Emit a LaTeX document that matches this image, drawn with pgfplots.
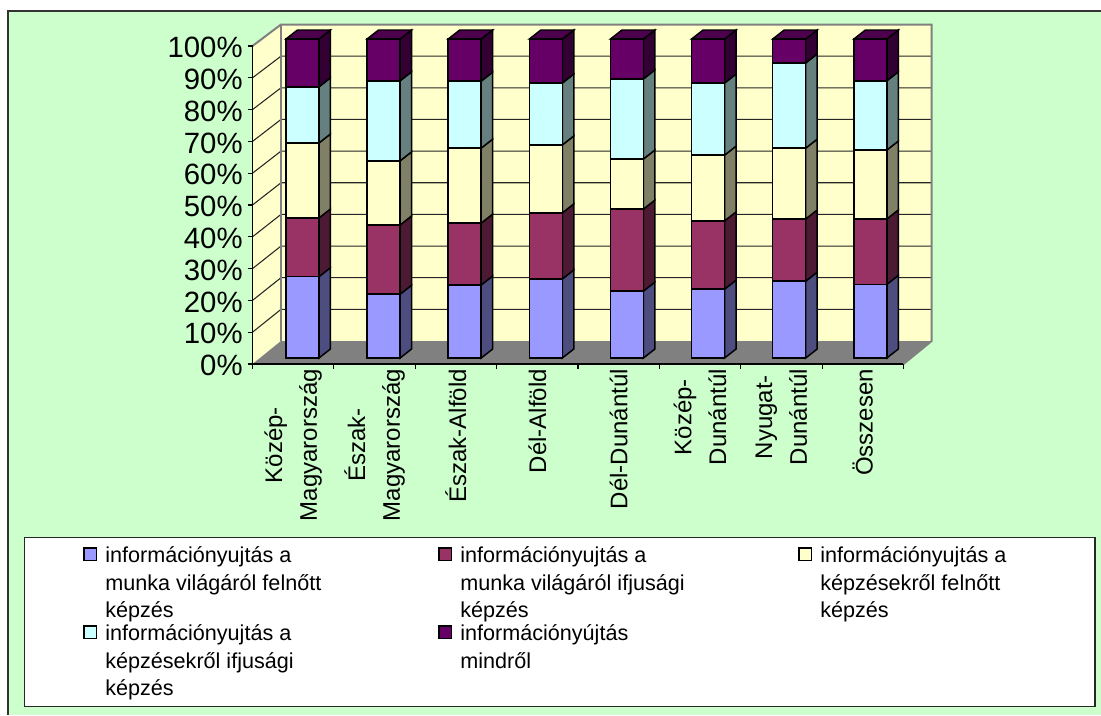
\documentclass[border=0pt]{standalone}
\usepackage{fontspec}
\setmainfont{Liberation Sans}
\usepackage{pgfplots}
\usepackage{pgfplotstable}
\pgfplotsset{compat=1.18}
\definecolor{bgg}{HTML}{CCFFCC}
\definecolor{wall}{HTML}{FFFFCC}
\definecolor{floorc}{HTML}{808080}
\definecolor{ca}{HTML}{9999FF}
\definecolor{cb}{HTML}{993366}
\definecolor{cc}{HTML}{FFFFCC}
\definecolor{cd}{HTML}{CCFFFF}
\definecolor{ce}{HTML}{660066}
\definecolor{sa}{HTML}{4D4D80}
\definecolor{sb}{HTML}{4D1A33}
\definecolor{sc}{HTML}{808066}
\definecolor{sd}{HTML}{668080}
\definecolor{se}{HTML}{330033}
\definecolor{te}{HTML}{4D004D}
\pgfplotstableread{
x a b c d e
0 25.5 18.4 23.5 17.6 15.0
1 20.0 21.7 20.1 25.1 13.1
2 22.9 19.4 23.5 21.0 13.2
3 24.8 20.7 21.3 19.4 13.8
4 21.0 25.7 15.7 25.1 12.5
5 21.6 21.4 20.6 22.6 13.8
6 24.1 19.5 22.2 26.7 7.5
7 23.1 20.5 21.6 21.7 13.1
}\shares
% side face of one segment: x, lower value, upper value, colour
\newcommand\seg[4]{\addplot[fill=#4,draw=black,line width=1.1pt,line join=miter] coordinates {(#1+0.2033,#2) (#1+0.3450,#2+2.82) (#1+0.3450,#3+2.82) (#1+0.2033,#3)} --cycle;}
% all side faces and the top of one bar: x and its five shares
\newcommand\sides[6]{%
 \seg{#1}{0}{#2}{sa}
 \seg{#1}{#2}{#2+#3}{sb}
 \seg{#1}{#2+#3}{#2+#3+#4}{sc}
 \seg{#1}{#2+#3+#4}{#2+#3+#4+#5}{sd}
 \seg{#1}{#2+#3+#4+#5}{#2+#3+#4+#5+#6}{se}
 \addplot[fill=te,draw=black,line width=1.1pt] coordinates {(#1-0.2033,100) (#1+0.2033,100) (#1+0.3450,102.82) (#1-0.0616,102.82)} --cycle;
}
\newcommand\lgd[6]{%
 \filldraw[fill=#3,draw=black,line width=1.1pt] (#1,#2-14) rectangle +(12.5,12.5);
 \node[anchor=base west,inner sep=0pt,font=\fontsize{16.2}{21}\selectfont] at (#1+21,#2) {#4};
 \node[anchor=base west,inner sep=0pt,font=\fontsize{16.2}{21}\selectfont] at (#1+21,#2+28) {#5};
 \node[anchor=base west,inner sep=0pt,font=\fontsize{16.2}{21}\selectfont] at (#1+21,#2+55) {#6};
}
\begin{document}
\begin{tikzpicture}
\path[use as bounding box] (0pt,0pt) rectangle (825.75pt,-536.25pt);
\begin{scope}[x=0.75pt,y=-0.75pt]
 \fill[white] (0,0) rectangle (1101,715);
 \fill[bgg] (8,11) rectangle (1101,715);
 \draw[black!80,line width=1.5pt] (8,715) -- (8,11) -- (1101,11);
 % walls and floor
 \fill[wall] (281,24.5) rectangle (931.6,341);
 \fill[wall] (252.5,364) -- (281,341) -- (281,24.5) -- (252.5,46) -- cycle;
 \foreach \i in {1,...,9} {
  \draw[black!85,line width=0.8pt] (252.5,364-31.8*\i) -- (281,341-31.65*\i) -- (931.6,341-31.65*\i);
 }
 \fill[floorc] (252.5,364) -- (903.5,364) -- (931.6,341) -- (281,341) -- cycle;
 \draw[floorc,line width=1.5pt] (252.5,46) -- (281,24.5) -- (931.6,24.5) -- (931.6,341) -- (903.5,364);
 \draw[floorc,line width=1.5pt] (281,24.5) -- (281,341);
 % legend
 \filldraw[fill=white,draw=black!85,line width=0.8pt] (24.5,537.7) rectangle (1095,706.7);
 \lgd{84}{562}{ca}{információnyujtás a}{munka világáról felnőtt}{képzés}
 \lgd{439}{562}{cb}{információnyujtás a}{munka világáról ifjusági}{képzés}
 \lgd{799}{562}{cc}{információnyujtás a}{képzésekről felnőtt}{képzés}
 \lgd{84}{640}{cd}{információnyujtás a}{képzésekről ifjusági}{képzés}
 \lgd{439}{640}{ce}{információnyújtás}{mindről}{}
\end{scope}
% value and category axis
\begin{axis}[
 at={(189.375pt,-273pt)},anchor=south west,scale only axis,
 width=488.25pt,height=238.5pt,
 xmin=0,xmax=8,ymin=0,ymax=100,clip=false,
 axis x line*=bottom,axis y line*=left,
 axis line style={black,line width=0.8pt,-},
 tick style={black,line width=0.8pt},
 tick align=outside,major tick length=3.7pt,
 xtick={0,1,...,8},x tick label as interval,
 xticklabels={Közép-\\Magyarország,Észak-\\Magyarország,Észak-Alföld,Dél-Alföld,Dél-Dunántúl,Közép-\\Dunántúl,Nyugat-\\Dunántúl,Összesen},
 x tick label style={rotate=90,anchor=east,align=center,inner sep=0pt,font=\fontsize{18}{26}\selectfont},
 ytick={0,10,...,100},
 yticklabels={0\%,10\%,20\%,30\%,40\%,50\%,60\%,70\%,80\%,90\%,100\%},
 y tick label style={font=\fontsize{22}{24}\selectfont,inner xsep=0pt,xshift=-3.5pt,yshift=-1.2pt},
]
\end{axis}
% side and top faces
\begin{axis}[
 at={(196.4pt,-268.5pt)},anchor=south west,scale only axis,
 width=486.8pt,height=239.25pt,
 xmin=-0.5,xmax=7.5,ymin=0,ymax=100,clip=false,hide axis,
]
\sides{0}{25.5}{18.4}{23.5}{17.6}{15.0}
\sides{1}{20.0}{21.7}{20.1}{25.1}{13.1}
\sides{2}{22.9}{19.4}{23.5}{21.0}{13.2}
\sides{3}{24.8}{20.7}{21.3}{19.4}{13.8}
\sides{4}{21.0}{25.7}{15.7}{25.1}{12.5}
\sides{5}{21.6}{21.4}{20.6}{22.6}{13.8}
\sides{6}{24.1}{19.5}{22.2}{26.7}{7.5}
\sides{7}{23.1}{20.5}{21.6}{21.7}{13.1}
\end{axis}
% front faces
\begin{axis}[
 at={(196.4pt,-268.5pt)},anchor=south west,scale only axis,
 width=486.8pt,height=239.25pt,
 xmin=-0.5,xmax=7.5,ymin=0,ymax=100,clip=false,hide axis,
 ybar stacked,bar width=0.4067,
]
\addplot[fill=ca,draw=black,line width=1.1pt] table[x=x,y=a]{\shares};
\addplot[fill=cb,draw=black,line width=1.1pt] table[x=x,y=b]{\shares};
\addplot[fill=cc,draw=black,line width=1.1pt] table[x=x,y=c]{\shares};
\addplot[fill=cd,draw=black,line width=1.1pt] table[x=x,y=d]{\shares};
\addplot[fill=ce,draw=black,line width=1.1pt] table[x=x,y=e]{\shares};
\end{axis}
\end{tikzpicture}
\end{document}
